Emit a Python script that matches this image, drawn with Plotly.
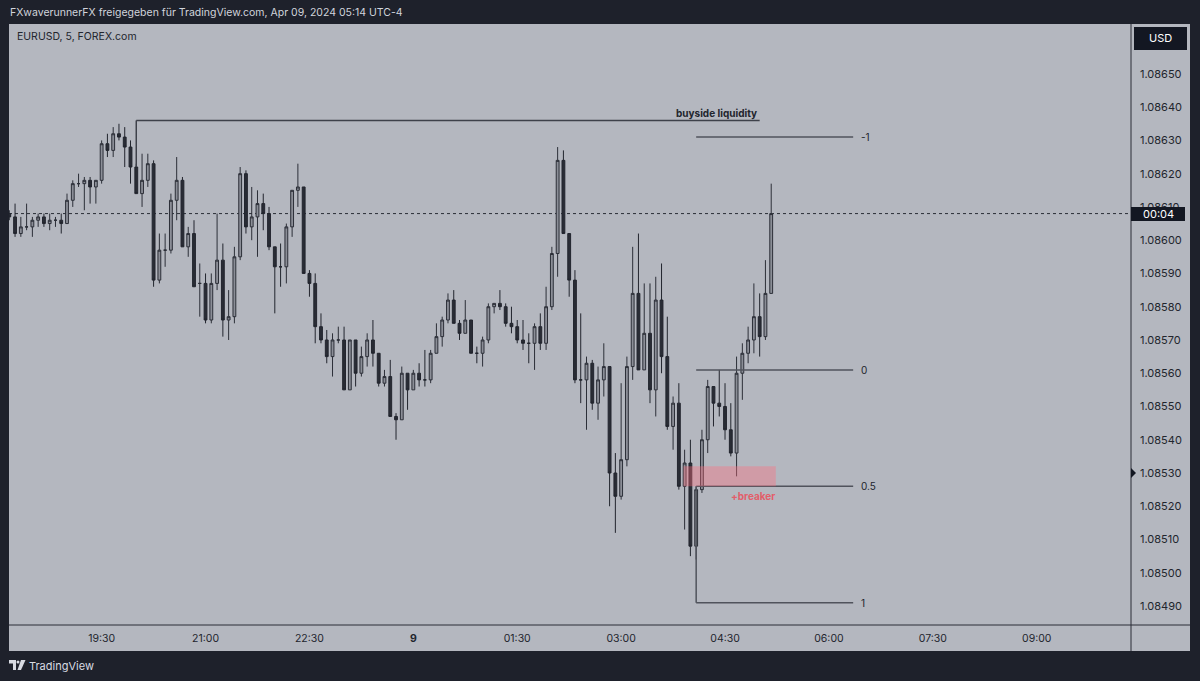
import plotly.graph_objects as go
import pandas as pd

# ---------------- data ----------------
header_text = "FXwaverunnerFX freigegeben für TradingView.com, Apr 09, 2024 05:14 UTC-4"
symbol_text = "EURUSD, 5, FOREX.com"
start_time = "2024-04-08 18:10"

opens = [1.08608, 1.08607, 1.08602, 1.08604, 1.08604, 1.08606, 1.08607, 1.08605, 1.08606, 1.08606,
         1.08605, 1.08612, 1.08617, 1.08617, 1.08618, 1.08616, 1.08618, 1.08629, 1.08627, 1.08632,
         1.08631, 1.08628, 1.08622, 1.08614, 1.08618, 1.08623, 1.08588, 1.08597, 1.08597, 1.08612,
         1.08618, 1.08598, 1.08602, 1.08587, 1.08587, 1.08576, 1.08587, 1.08594, 1.08576, 1.08577,
         1.08595, 1.08620, 1.08604, 1.08607, 1.08611, 1.08608, 1.08598, 1.08592, 1.08592, 1.08604,
         1.08615, 1.08616, 1.08590, 1.08587, 1.08574, 1.08570, 1.08565, 1.08570, 1.08570, 1.08555,
         1.08570, 1.08560, 1.08565, 1.08570, 1.08566, 1.08557, 1.08559, 1.08547, 1.08546, 1.08560,
         1.08555, 1.08560, 1.08558, 1.08558, 1.08566, 1.08571, 1.08576, 1.08582, 1.08575, 1.08572,
         1.08576, 1.08566, 1.08566, 1.08570, 1.08580, 1.08581, 1.08580, 1.08575, 1.08574, 1.08570,
         1.08569, 1.08569, 1.08574, 1.08569, 1.08580, 1.08596, 1.08624, 1.08602, 1.08588, 1.08558,
         1.08558, 1.08563, 1.08551, 1.08558, 1.08562, 1.08530, 1.08523, 1.08534, 1.08562, 1.08584,
         1.08561, 1.08572, 1.08555, 1.08582, 1.08565, 1.08544, 1.08551, 1.08526, 1.08533, 1.08508,
         1.08525, 1.08540, 1.08556, 1.08551, 1.08550, 1.08543, 1.08536, 1.08560, 1.08566, 1.08570,
         1.08577, 1.08571, 1.08584]
highs = [1.08609, 1.08611, 1.08607, 1.08611, 1.08607, 1.08608, 1.08608, 1.08608, 1.08607, 1.08608,
         1.08614, 1.08618, 1.08620, 1.08619, 1.08619, 1.08618, 1.08630, 1.08632, 1.08634, 1.08635,
         1.08634, 1.08630, 1.08623, 1.08626, 1.08626, 1.08624, 1.08602, 1.08602, 1.08614, 1.08625,
         1.08619, 1.08604, 1.08606, 1.08593, 1.08590, 1.08590, 1.08608, 1.08599, 1.08585, 1.08598,
         1.08622, 1.08621, 1.08616, 1.08615, 1.08614, 1.08610, 1.08598, 1.08599, 1.08605, 1.08615,
         1.08623, 1.08616, 1.08591, 1.08590, 1.08578, 1.08573, 1.08572, 1.08574, 1.08574, 1.08570,
         1.08570, 1.08568, 1.08572, 1.08576, 1.08566, 1.08561, 1.08564, 1.08548, 1.08562, 1.08560,
         1.08561, 1.08563, 1.08567, 1.08567, 1.08575, 1.08577, 1.08584, 1.08585, 1.08576, 1.08582,
         1.08576, 1.08568, 1.08571, 1.08581, 1.08581, 1.08585, 1.08581, 1.08580, 1.08576, 1.08576,
         1.08572, 1.08575, 1.08578, 1.08586, 1.08598, 1.08628, 1.08627, 1.08602, 1.08591, 1.08578,
         1.08565, 1.08564, 1.08562, 1.08569, 1.08562, 1.08536, 1.08557, 1.08565, 1.08598, 1.08602,
         1.08587, 1.08587, 1.08589, 1.08593, 1.08577, 1.08553, 1.08557, 1.08537, 1.08540, 1.08526,
         1.08543, 1.08558, 1.08556, 1.08561, 1.08557, 1.08551, 1.08565, 1.08569, 1.08574, 1.08587,
         1.08584, 1.08594, 1.08617]
lows = [1.08606, 1.08601, 1.08601, 1.08603, 1.08601, 1.08604, 1.08604, 1.08603, 1.08604, 1.08602,
        1.08605, 1.08610, 1.08616, 1.08609, 1.08611, 1.08611, 1.08617, 1.08625, 1.08625, 1.08630,
        1.08622, 1.08617, 1.08614, 1.08610, 1.08616, 1.08586, 1.08587, 1.08592, 1.08596, 1.08606,
        1.08598, 1.08595, 1.08586, 1.08577, 1.08575, 1.08575, 1.08585, 1.08571, 1.08570, 1.08575,
        1.08594, 1.08602, 1.08600, 1.08595, 1.08603, 1.08597, 1.08578, 1.08586, 1.08587, 1.08601,
        1.08610, 1.08590, 1.08583, 1.08569, 1.08569, 1.08563, 1.08559, 1.08569, 1.08555, 1.08555,
        1.08556, 1.08559, 1.08562, 1.08562, 1.08556, 1.08556, 1.08547, 1.08540, 1.08546, 1.08549,
        1.08555, 1.08556, 1.08556, 1.08557, 1.08566, 1.08568, 1.08575, 1.08575, 1.08570, 1.08572,
        1.08566, 1.08563, 1.08562, 1.08569, 1.08578, 1.08579, 1.08574, 1.08572, 1.08569, 1.08567,
        1.08563, 1.08561, 1.08567, 1.08567, 1.08579, 1.08589, 1.08602, 1.08583, 1.08557, 1.08551,
        1.08543, 1.08549, 1.08546, 1.08553, 1.08520, 1.08512, 1.08522, 1.08532, 1.08558, 1.08561,
        1.08561, 1.08551, 1.08547, 1.08560, 1.08543, 1.08537, 1.08525, 1.08513, 1.08505, 1.08504,
        1.08524, 1.08536, 1.08544, 1.08547, 1.08540, 1.08535, 1.08529, 1.08552, 1.08563, 1.08566,
        1.08565, 1.08570, 1.08584]
closes = [1.08607, 1.08602, 1.08604, 1.08604, 1.08606, 1.08607, 1.08605, 1.08606, 1.08606, 1.08605,
          1.08612, 1.08617, 1.08617, 1.08618, 1.08616, 1.08618, 1.08629, 1.08627, 1.08632, 1.08631,
          1.08628, 1.08622, 1.08614, 1.08618, 1.08623, 1.08588, 1.08597, 1.08597, 1.08612, 1.08618,
          1.08598, 1.08602, 1.08586, 1.08587, 1.08576, 1.08587, 1.08594, 1.08576, 1.08577, 1.08595,
          1.08620, 1.08604, 1.08607, 1.08611, 1.08608, 1.08598, 1.08592, 1.08592, 1.08604, 1.08615,
          1.08616, 1.08590, 1.08587, 1.08574, 1.08570, 1.08565, 1.08570, 1.08570, 1.08555, 1.08570,
          1.08560, 1.08565, 1.08570, 1.08566, 1.08557, 1.08559, 1.08547, 1.08546, 1.08560, 1.08555,
          1.08560, 1.08558, 1.08558, 1.08566, 1.08571, 1.08576, 1.08582, 1.08575, 1.08572, 1.08576,
          1.08566, 1.08566, 1.08570, 1.08580, 1.08581, 1.08580, 1.08575, 1.08574, 1.08570, 1.08569,
          1.08569, 1.08574, 1.08569, 1.08580, 1.08596, 1.08624, 1.08602, 1.08588, 1.08558, 1.08558,
          1.08563, 1.08551, 1.08558, 1.08562, 1.08530, 1.08523, 1.08534, 1.08562, 1.08584, 1.08561,
          1.08572, 1.08555, 1.08582, 1.08565, 1.08544, 1.08551, 1.08526, 1.08533, 1.08508, 1.08525,
          1.08540, 1.08556, 1.08551, 1.08550, 1.08543, 1.08536, 1.08560, 1.08566, 1.08570, 1.08577,
          1.08571, 1.08584, 1.08608]

x_tick_times = ["2024-04-08 19:30", "2024-04-08 21:00", "2024-04-08 22:30", "2024-04-09 00:00",
                "2024-04-09 01:30", "2024-04-09 03:00", "2024-04-09 04:30", "2024-04-09 06:00",
                "2024-04-09 07:30", "2024-04-09 09:00"]
x_tick_labels = ["19:30", "21:00", "22:30", "<b>9</b>", "01:30", "03:00", "04:30", "06:00", "07:30", "09:00"]
y_tick_values = [1.08490, 1.08500, 1.08510, 1.08520, 1.08530, 1.08540, 1.08550, 1.08560,
                 1.08570, 1.08580, 1.08590, 1.08600, 1.08610, 1.08620, 1.08630, 1.08640, 1.08650]

last_price = 1.08608
countdown_text = "00:04"

# drawings
liquidity_label = "buyside liquidity"
liquidity_price = 1.08636
liquidity_anchor_low = 1.08622
liquidity_start = "2024-04-08 20:00"
liquidity_end = "2024-04-09 05:00"

fib_levels = [-1, 0, 0.5, 1]
fib_level_labels = ["-1", "0", "0.5", "1"]
fib_price_zero = 1.08561
fib_price_one = 1.08491
fib_start = "2024-04-09 04:05"
fib_end = "2024-04-09 06:21"

breaker_label = "+breaker"
breaker_top = 1.08532
breaker_bottom = 1.08526
breaker_start = "2024-04-09 03:54"
breaker_end = "2024-04-09 05:14"

# ---------------- styling ----------------
DARK = "#1e212b"
PANE = "#b4b7bf"
TEXT = "#22252d"
FONT = "Inter"

times = pd.date_range(start_time, periods=len(opens), freq="5min")

fig = go.Figure()
fig.add_trace(go.Candlestick(
    x=times, open=opens, high=highs, low=lows, close=closes,
    increasing=dict(line=dict(color="#2c2f38", width=1), fillcolor="#8b8e97"),
    decreasing=dict(line=dict(color="#22252e", width=1), fillcolor="#292c35"),
    whiskerwidth=0, showlegend=False, hoverinfo="skip",
))

W, H = 1200, 681
ML, MR, MT, MB = 9, 69, 24, 56
PW, PH = W - ML - MR, H - MT - MB


def px(x):
    return (x - ML) / PW


def py(y):
    return (H - MB - y) / PH


shapes = []
# gray pane incl. axes
shapes.append(dict(type="rect", xref="paper", yref="paper", x0=px(9), x1=px(1190), y0=py(651), y1=py(24),
                   fillcolor=PANE, line_width=0, layer="below"))
# axis separator lines
shapes.append(dict(type="line", xref="paper", yref="paper", x0=px(9), x1=px(1190), y0=py(625), y1=py(625),
                   line=dict(color="#2a2d36", width=1), layer="above"))
shapes.append(dict(type="line", xref="paper", yref="paper", x0=px(1131), x1=px(1131), y0=py(24), y1=py(651),
                   line=dict(color="#2a2d36", width=1), layer="above"))
# last price dotted line
shapes.append(dict(type="line", xref="paper", yref="y", x0=0, x1=1, y0=last_price, y1=last_price,
                   line=dict(color="#2a2d36", width=1, dash="dot"), layer="below"))
# buyside liquidity line
shapes.append(dict(type="line", xref="x", yref="y", x0=liquidity_start, x1=liquidity_end,
                   y0=liquidity_price, y1=liquidity_price, line=dict(color="#3e414a", width=1.5)))
shapes.append(dict(type="line", xref="x", yref="y", x0=liquidity_start, x1=liquidity_start,
                   y0=liquidity_price, y1=liquidity_anchor_low, line=dict(color="#3e414a", width=1.5)))
# fib levels
for lv in fib_levels:
    p = fib_price_zero - lv * (fib_price_zero - fib_price_one)
    shapes.append(dict(type="line", xref="x", yref="y", x0=fib_start, x1=fib_end, y0=p, y1=p,
                       line=dict(color="#50535c", width=1.5)))
p_half = fib_price_zero - 0.5 * (fib_price_zero - fib_price_one)
shapes.append(dict(type="line", xref="x", yref="y", x0=fib_start, x1=fib_start, y0=fib_price_one, y1=p_half,
                   line=dict(color="#50535c", width=1.5)))
# breaker box
shapes.append(dict(type="rect", xref="x", yref="y", x0=breaker_start, x1=breaker_end,
                   y0=breaker_bottom, y1=breaker_top, fillcolor="rgba(255,110,125,0.38)", line_width=0,
                   layer="above"))
# countdown box
shapes.append(dict(type="rect", xref="paper", yref="paper", x0=px(1131), x1=px(1185), y0=py(221), y1=py(207),
                   fillcolor="#131722", line_width=0, layer="above"))
# USD box
shapes.append(dict(type="rect", xref="paper", yref="paper", x0=px(1134), x1=px(1187), y0=py(50), y1=py(27),
                   fillcolor="#131722", line_width=0, layer="above"))
# axis marker triangle
shapes.append(dict(type="path", xref="paper", yref="paper",
                   path=f"M {px(1131)} {py(468)} L {px(1136)} {py(473)} L {px(1131)} {py(478)} Z",
                   fillcolor="#131722", line_width=0, layer="above"))
# TradingView logo
logo_col = "#d8dbe2"
shapes.append(dict(type="path", xref="paper", yref="paper",
                   path=(f"M {px(9)} {py(660)} L {px(16)} {py(660)} L {px(16)} {py(670)} L {px(13)} {py(670)} "
                         f"L {px(13)} {py(663.5)} L {px(9)} {py(663.5)} Z"),
                   fillcolor=logo_col, line_width=0, layer="above"))
shapes.append(dict(type="circle", xref="paper", yref="paper", x0=px(16.5), x1=px(19.5), y0=py(663.5),
                   y1=py(660.5), fillcolor=logo_col, line_width=0, layer="above"))
shapes.append(dict(type="path", xref="paper", yref="paper",
                   path=(f"M {px(21)} {py(660)} L {px(25.5)} {py(660)} L {px(21)} {py(670)} L {px(17.5)} {py(670)} Z"),
                   fillcolor=logo_col, line_width=0, layer="above"))

annotations = []
annotations.append(dict(text=header_text, xref="paper", yref="paper", x=px(8), y=py(12), xanchor="left",
                        yanchor="middle", showarrow=False, font=dict(family=FONT, size=10.5, color="#d1d4dc")))
annotations.append(dict(text=symbol_text, xref="paper", yref="paper", x=px(15), y=py(37), xanchor="left",
                        yanchor="middle", showarrow=False, font=dict(family=FONT, size=10.5, color=TEXT)))
annotations.append(dict(text="USD", xref="paper", yref="paper", x=px(1160.5), y=py(38.5), xanchor="center",
                        yanchor="middle", showarrow=False, font=dict(family=FONT, size=11, color="#ffffff")))
annotations.append(dict(text=countdown_text, xref="paper", yref="paper", x=px(1158), y=py(214),
                        xanchor="center", yanchor="middle", showarrow=False,
                        font=dict(family=FONT, size=11, color="#ffffff")))
annotations.append(dict(text="TradingView", xref="paper", yref="paper", x=px(27), y=py(665.5), xanchor="left",
                        yanchor="middle", showarrow=False, font=dict(family=FONT, size=11, color="#d8dbe2")))
annotations.append(dict(text="<b>" + liquidity_label + "</b>", xref="x", yref="y",
                        x="2024-04-09 04:23", y=1.08638, xanchor="center", yanchor="middle", showarrow=False,
                        font=dict(family=FONT, size=10, color=TEXT)))
for lv, lab in zip(fib_levels, fib_level_labels):
    p = fib_price_zero - lv * (fib_price_zero - fib_price_one)
    annotations.append(dict(text=lab, xref="x", yref="y", x="2024-04-09 06:26", y=p, xanchor="left",
                            yanchor="middle", showarrow=False, font=dict(family=FONT, size=10, color=TEXT)))
annotations.append(dict(text="<b>" + breaker_label + "</b>", xref="x", yref="y", x="2024-04-09 04:54",
                        y=1.08523, xanchor="center", yanchor="middle", showarrow=False,
                        font=dict(family=FONT, size=10, color="#e35d6a")))

fig.update_layout(
    width=W, height=H,
    margin=dict(l=ML, r=MR, t=MT, b=MB, pad=0),
    paper_bgcolor=DARK, plot_bgcolor=PANE,
    font=dict(family=FONT, color=TEXT),
    shapes=shapes, annotations=annotations,
    showlegend=False,
    xaxis=dict(
        type="date", range=["2024-04-08 18:09:45", "2024-04-09 10:21:40"],
        rangeslider=dict(visible=False), showgrid=False, zeroline=False, showline=False,
        tickvals=x_tick_times, ticktext=x_tick_labels, ticks="",
        tickfont=dict(family=FONT, size=10.5, color=TEXT), ticklabelstandoff=5,
    ),
    yaxis=dict(
        side="right", range=[1.084843, 1.086650], showgrid=False, zeroline=False, showline=False,
        tickvals=y_tick_values, ticktext=[f"{v:.5f}" for v in y_tick_values], ticks="",
        tickfont=dict(family=FONT, size=11, color=TEXT), ticklabelstandoff=8,
    ),
)

fig.write_html("out.html", config={"displayModeBar": False},
               post_script="document.body.style.margin='0px';document.body.style.overflow='hidden';")
